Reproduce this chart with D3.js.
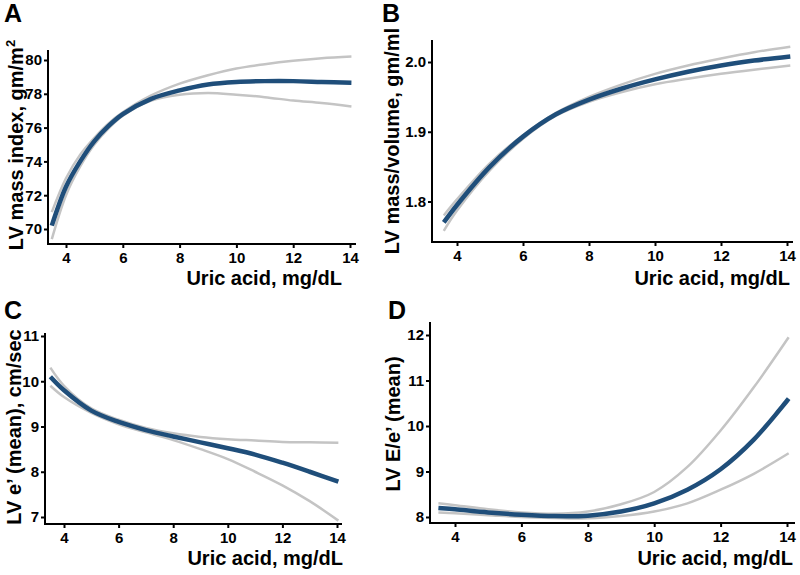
<!DOCTYPE html>
<html><head><meta charset="utf-8">
<script src="https://cdn.jsdelivr.net/npm/d3@7"></script>
<style>body{margin:0;background:#fff}svg{display:block}</style>
</head><body>
<svg id="c" width="800" height="575"></svg>
<script>
// ---------- data ----------
const xTicks = [4, 6, 8, 10, 12, 14];

const aX     = [3.5, 4, 4.5, 5, 5.5, 6, 7, 8, 9, 10, 11, 12, 13, 14.05];
const aFit   = [70.2, 72.5, 74.0, 75.2, 76.1, 76.8, 77.7, 78.2, 78.55, 78.7, 78.75, 78.75, 78.7, 78.65];
const aUpper = [71.0, 73.0, 74.4, 75.4, 76.25, 76.9, 77.9, 78.6, 79.1, 79.5, 79.75, 79.95, 80.1, 80.2];
const aLower = [69.4, 72.0, 73.7, 75.0, 75.95, 76.7, 77.6, 77.95, 78.05, 77.95, 77.8, 77.6, 77.45, 77.25];
const aYTicks = [70, 72, 74, 76, 78, 80];

const bX     = [3.6, 4, 5, 6, 7, 8, 9, 10, 11, 12, 13, 14.1];
const bFit   = [1.770, 1.795, 1.850, 1.893, 1.925, 1.946, 1.962, 1.975, 1.986, 1.995, 2.002, 2.008];
const bUpper = [1.780, 1.803, 1.855, 1.895, 1.927, 1.950, 1.968, 1.983, 1.995, 2.005, 2.014, 2.022];
const bLower = [1.758, 1.787, 1.845, 1.890, 1.923, 1.943, 1.957, 1.968, 1.976, 1.983, 1.989, 1.995];
const bYTicks = [1.8, 1.9, 2.0];

const cX     = [3.5, 4, 5, 6, 7, 8, 9, 10, 11, 12, 13, 14.05];
const cFit   = [10.1, 9.8, 9.35, 9.1, 8.92, 8.78, 8.65, 8.52, 8.38, 8.2, 8.0, 7.78];
const cUpper = [10.3, 9.9, 9.4, 9.15, 8.97, 8.85, 8.77, 8.72, 8.69, 8.66, 8.65, 8.64];
const cLower = [9.9, 9.65, 9.3, 9.05, 8.87, 8.7, 8.5, 8.28, 8.0, 7.7, 7.35, 6.92];
const cYTicks = [7, 8, 9, 10, 11];

const dX     = [3.5, 4, 5, 6, 7, 8, 9, 10, 11, 12, 13, 14.05];
const dFit   = [8.2, 8.17, 8.1, 8.05, 8.02, 8.03, 8.12, 8.3, 8.6, 9.05, 9.7, 10.6];
const dUpper = [8.3, 8.26, 8.17, 8.1, 8.07, 8.12, 8.28, 8.55, 9.1, 9.9, 10.85, 11.95];
const dLower = [8.1, 8.08, 8.04, 8.0, 7.98, 7.97, 8.02, 8.12, 8.3, 8.6, 8.95, 9.4];
const dYTicks = [8, 9, 10, 11, 12];

// ---------- layout ----------
const panels = [
  {letter:"A", lx:4, ly:22, x0:48, x1:356, xr:[66,350], yTop:50, yBot:244, yv:[70,80], yp:[229,60],
   xs:aX, fit:aFit, up:aUpper, lo:aLower, yt:aYTicks, fmt:d3.format("d"),
   ytitle:["LV mass index, gm/m","2"], ytx:23, yty:145, xtx:342, xty:285},
  {letter:"B", lx:382, ly:22, x0:432, x1:793, xr:[457,787], yTop:40, yBot:242, yv:[1.8,2.0], yp:[201.5,62],
   xs:bX, fit:bFit, up:bUpper, lo:bLower, yt:bYTicks, fmt:d3.format(".1f"),
   ytitle:["LV mass/volume, gm/ml"], ytx:399, yty:141, xtx:790, xty:285},
  {letter:"C", lx:4, ly:319, x0:45, x1:342, xr:[64,337], yTop:333, yBot:524, yv:[7,11], yp:[517,336],
   xs:cX, fit:cFit, up:cUpper, lo:cLower, yt:cYTicks, fmt:d3.format("d"),
   ytitle:["LV e’ (mean), cm/sec"], ytx:21, yty:427, xtx:343, xty:565},
  {letter:"D", lx:388, ly:319, x0:430, x1:795, xr:[455,787], yTop:322, yBot:523, yv:[8,12], yp:[517,335],
   xs:dX, fit:dFit, up:dUpper, lo:dLower, yt:dYTicks, fmt:d3.format("d"),
   ytitle:["LV E/e’ (mean)"], ytx:400, yty:424, xtx:793, xty:565}
];

const svg = d3.select("#c");
const font = "Liberation Sans, Arial, sans-serif";

panels.forEach(p => {
  const x = d3.scaleLinear().domain([4,14]).range(p.xr);
  const y = d3.scaleLinear().domain(p.yv).range(p.yp);
  const g = svg.append("g");

  // axes lines
  g.append("line").attr("x1",p.x0).attr("x2",p.x0).attr("y1",p.yTop).attr("y2",p.yBot+1)
    .attr("stroke","#000").attr("stroke-width",2);
  g.append("line").attr("x1",p.x0-1).attr("x2",p.x1).attr("y1",p.yBot).attr("y2",p.yBot)
    .attr("stroke","#000").attr("stroke-width",2);

  const xa = g.append("g").attr("transform",`translate(0,${p.yBot})`)
    .call(d3.axisBottom(x).tickValues(xTicks).tickSize(4).tickPadding(4).tickFormat(d3.format("d")));
  const ya = g.append("g").attr("transform",`translate(${p.x0},0)`)
    .call(d3.axisLeft(y).tickValues(p.yt).tickSize(4).tickPadding(2).tickFormat(p.fmt));
  [xa, ya].forEach(a => {
    a.select(".domain").remove();
    a.selectAll(".tick line").attr("stroke","#000").attr("stroke-width",2);
    a.selectAll(".tick text").attr("fill","#000").style("font-family",font)
      .style("font-weight","bold").style("font-size","15px");
  });

  const line = d3.line().curve(d3.curveCatmullRom.alpha(0.5))
    .x(d => x(d[0])).y(d => y(d[1]));
  const mk = arr => p.xs.map((v,i) => [v, arr[i]]);

  g.append("path").attr("d", line(mk(p.up))).attr("fill","none")
    .attr("stroke","#c4c4c4").attr("stroke-width",2.5);
  g.append("path").attr("d", line(mk(p.lo))).attr("fill","none")
    .attr("stroke","#c4c4c4").attr("stroke-width",2.5);
  g.append("path").attr("d", line(mk(p.fit))).attr("fill","none")
    .attr("stroke","#1f4e7a").attr("stroke-width",4.5);

  // panel letter
  g.append("text").attr("x",p.lx).attr("y",p.ly).text(p.letter)
    .style("font-family",font).style("font-weight","bold").style("font-size","25px");

  // x title
  g.append("text").attr("x",p.xtx).attr("y",p.xty).attr("text-anchor","end")
    .text("Uric acid, mg/dL")
    .style("font-family",font).style("font-weight","bold").style("font-size","20px");

  // y title
  const yt = g.append("text").attr("transform",`translate(${p.ytx},${p.yty}) rotate(-90)`)
    .attr("text-anchor","middle")
    .style("font-family",font).style("font-weight","bold").style("font-size","20px");
  yt.append("tspan").text(p.ytitle[0]);
  if (p.ytitle[1]) yt.append("tspan").attr("dy",-8).style("font-size","13px").text(p.ytitle[1]);
});
</script>
</body></html>
